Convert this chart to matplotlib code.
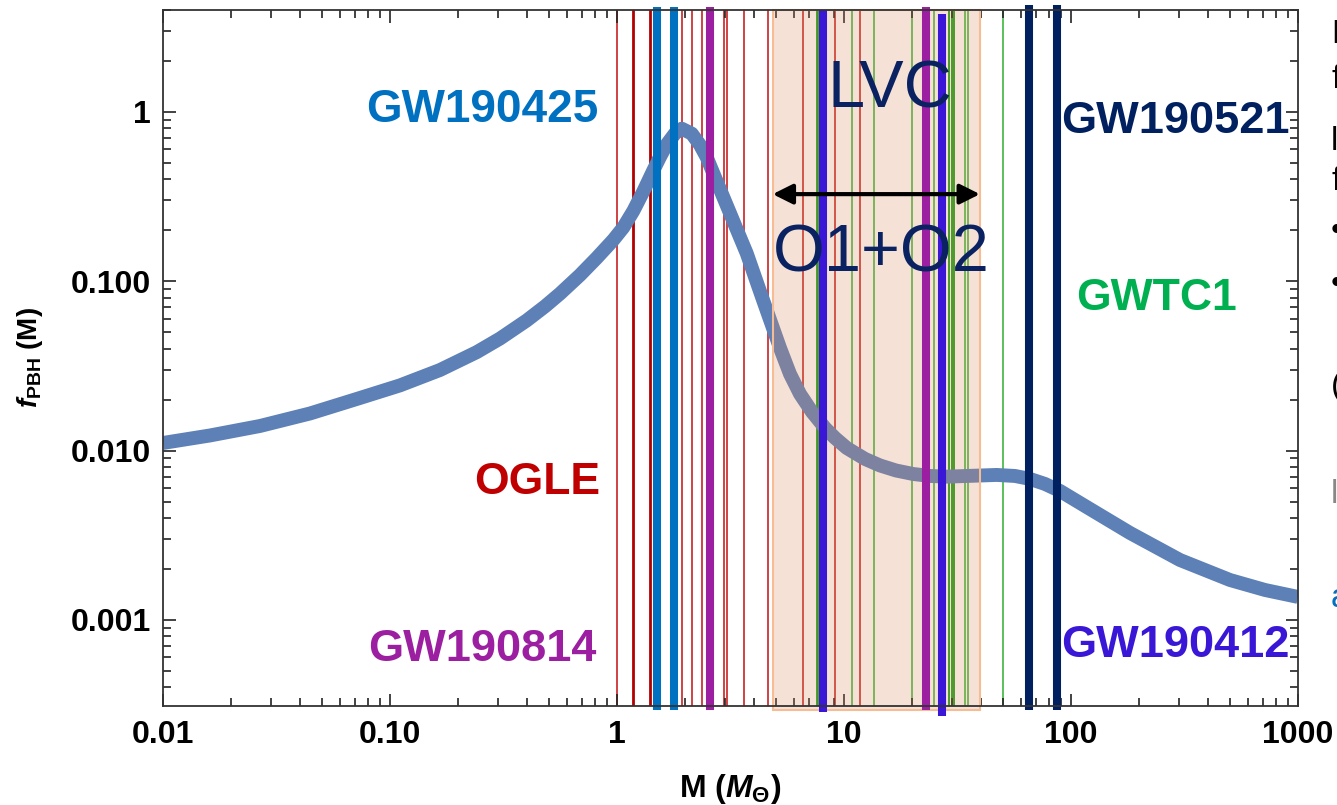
import matplotlib
matplotlib.use("Agg")
import matplotlib.pyplot as plt
from matplotlib.ticker import FixedLocator, FixedFormatter, LogLocator, NullFormatter

plt.rcParams['font.family'] = ['Liberation Sans', 'DejaVu Sans']
plt.rcParams['mathtext.fontset'] = 'custom'
plt.rcParams['mathtext.rm'] = 'Liberation Sans:bold'
plt.rcParams['mathtext.it'] = 'Liberation Sans:italic:bold'
plt.rcParams['mathtext.bf'] = 'Liberation Sans:bold'

# ---------------- data ----------------
mass = [0.0100, 0.01611, 0.02675, 0.04442, 0.07375, 0.1107, 0.1661, 0.2410, 0.3052,
        0.4001, 0.4817, 0.5610, 0.6871, 0.8138, 0.9632, 1.066, 1.180, 1.306, 1.445,
        1.547, 1.656, 1.801, 1.928, 2.134, 2.321, 2.484, 2.656, 2.892, 3.147, 3.727,
        4.398, 5.226, 5.782, 6.401, 7.228, 8.249, 9.129, 10.28, 12.38, 14.41, 16.95,
        20.14, 23.92, 28.35, 47.07, 56.66, 65.96, 76.82, 89.44, 121.2, 182.0, 302.0,
        501.7, 715.4, 1000]
fpbh = [0.01109, 0.01228, 0.01397, 0.01656, 0.02045, 0.02427, 0.02992, 0.03814,
        0.04588, 0.05867, 0.07107, 0.08450, 0.1088, 0.1373, 0.1754, 0.2078, 0.2602,
        0.3392, 0.4511, 0.5422, 0.6427, 0.7464, 0.7967, 0.7445, 0.6385, 0.5400,
        0.4344, 0.3310, 0.2522, 0.1463, 0.07755, 0.04036, 0.02834, 0.02159, 0.01690,
        0.01360, 0.01187, 0.01036, 0.008922, 0.008166, 0.007627, 0.007274, 0.007079,
        0.007014, 0.007178, 0.007079, 0.006798, 0.006350, 0.005773, 0.004519,
        0.003261, 0.002258, 0.001720, 0.001502, 0.001366]

ogle_thin = [1.0, 1.93, 2.13, 2.37, 2.96, 3.05, 3.62, 4.61, 6.6, 9.1, 11.8]
ogle_thick = [1.18, 1.40]
gwtc1_thin = [10.8, 13.5, 20.0, 24.9, 34.1, 35.3, 50.0]
gwtc1_mid = [29.0, 29.8, 30.5]
gwtc1_thick = [7.6]
gw190425 = [1.50, 1.79]
gw190814 = [2.58, 22.9]
gw190412 = [8.07, 27.1]
gw190521 = [65.0, 86.7]
lvc_range = [4.85, 39.7]
arrow_level = 0.327

xticks = [0.01, 0.1, 1, 10, 100, 1000]
xticklabels = ['0.01', '0.10', '1', '10', '100', '1000']
yticks = [0.001, 0.01, 0.1, 1]
yticklabels = ['0.001', '0.010', '0.100', '1']

# ---------------- figure ----------------
W, H = 1337, 805
fig = plt.figure(figsize=(W / 100, H / 100), dpi=100)
L, R, T, B = 163, 1298, 10, 706
ax = fig.add_axes([L / W, 1 - B / H, (R - L) / W, (B - T) / H])
ax.set_xscale('log')
ax.set_yscale('log')
ax.set_xlim(0.01, 1000)
ax.set_ylim(3.1e-4, 4.0)

def fx(px):
    return px / W

def fy(py):
    return 1 - py / H

# thin lines (OGLE, GWTC1)
for m in ogle_thin:
    ax.axvline(m, color='#C41010', lw=1.1, zorder=1)
for m in ogle_thick:
    ax.axvline(m, color='#B00000', lw=2.0, zorder=1)
for m in gwtc1_thin:
    ax.axvline(m, color='#2DB02D', lw=1.1, zorder=1)
for m in gwtc1_mid:
    ax.axvline(m, color='#1AA01A', lw=1.4, zorder=1)
for m in gwtc1_thick:
    ax.axvline(m, color='#0E9A0E', lw=2.0, zorder=1)

# curve
ax.plot(mass, fpbh, color='#5D80B6', lw=10, solid_capstyle='butt',
        solid_joinstyle='round', zorder=2)

# LVC box
ax.axvspan(lvc_range[0], lvc_range[1], ymin=-0.006, ymax=1.0,
           facecolor=(219 / 255, 139 / 255, 91 / 255, 0.25),
           edgecolor='#F6BD94', lw=1.5, zorder=3, clip_on=False)

# thick GW event lines
def thick(ms, color, ymin, ymax):
    for m in ms:
        ax.axvline(m, ymin=ymin, ymax=ymax, color=color, lw=5.8, zorder=4,
                   clip_on=False, solid_capstyle='butt')

thick(gw190425, '#0070C0', -0.006, 1.004)
thick(gw190814, '#9B1FA0', -0.006, 1.004)
thick([gw190412[0]], '#3A17D6', -0.009, 1.0)
thick([gw190412[1]], '#3A17D6', -0.014, 0.994)
thick(gw190521, '#002060', -0.006, 1.007)

# arrow
ax.annotate('', xy=(lvc_range[1], arrow_level), xytext=(lvc_range[0], arrow_level),
            arrowprops=dict(arrowstyle='<|-|>', color='black', lw=3,
                            mutation_scale=30, shrinkA=0, shrinkB=0),
            zorder=6)

# axes styling
for s in ax.spines.values():
    s.set_color('#333333')
    s.set_linewidth(1.3)
    s.set_zorder(5)
ax.xaxis.set_major_locator(FixedLocator(xticks))
ax.xaxis.set_major_formatter(FixedFormatter(xticklabels))
ax.yaxis.set_major_locator(FixedLocator(yticks))
ax.yaxis.set_major_formatter(FixedFormatter(yticklabels))
ax.xaxis.set_minor_locator(LogLocator(base=10, subs=range(2, 10), numticks=20))
ax.yaxis.set_minor_locator(LogLocator(base=10, subs=range(2, 10), numticks=20))
ax.xaxis.set_minor_formatter(NullFormatter())
ax.yaxis.set_minor_formatter(NullFormatter())
ax.tick_params(which='both', direction='in', top=True, right=True,
               color='#222222', width=1.2)
ax.tick_params(which='major', length=9)
ax.tick_params(which='minor', length=6)
ax.tick_params(axis='x', which='major', pad=10)
ax.tick_params(axis='y', which='major', pad=9)
for lab in ax.get_xticklabels() + ax.get_yticklabels():
    lab.set_fontsize(23)
    lab.set_fontweight('bold')

# axis labels
fig.text(fx(730), fy(797), r'M ($M_{\Theta}$)', fontsize=23, fontweight='bold',
         ha='center', va='baseline')
fig.text(fx(30), fy(358), r'$f_{\mathrm{PBH}}$ (M)', fontsize=20, fontweight='bold',
         ha='center', va='center', rotation=90)

# annotation texts
fig.text(fx(598), fy(122), 'GW190425', color='#0070C0', fontsize=33,
         fontweight='bold', ha='right', va='baseline', zorder=7)
fig.text(fx(600), fy(494), 'OGLE', color='#C00000', fontsize=32,
         fontweight='bold', ha='right', va='baseline', zorder=7)
fig.text(fx(596), fy(661), 'GW190814', color='#9B1FA0', fontsize=32.5,
         fontweight='bold', ha='right', va='baseline', zorder=7)
fig.text(fx(1061), fy(133), 'GW190521', color='#002060', fontsize=32.5,
         fontweight='bold', ha='left', va='baseline', zorder=7)
fig.text(fx(1076), fy(310), 'GWTC1', color='#00B050', fontsize=32,
         fontweight='bold', ha='left', va='baseline', zorder=7)
fig.text(fx(1061), fy(657), 'GW190412', color='#3A17D6', fontsize=32.5,
         fontweight='bold', ha='left', va='baseline', zorder=7)
fig.text(fx(890), fy(107), 'LVC', color='#0A2262', fontsize=48,
         ha='center', va='baseline', zorder=7)
fig.text(fx(881), fy(272), 'O1+O2', color='#0A2262', fontsize=48,
         ha='center', va='baseline', zorder=7)

# fragments of neighbouring slide text at right edge (cut off in the reference too)
frags = [('D', 43, 'black'), ('f', 88, 'black'), ('l', 150, 'black'),
         ('f', 190, 'black'), ('•', 240, 'black'), ('•', 293, 'black'),
         ('(', 395, 'black'), ('l', 503, '#888888'), ('a', 607, '#0070C0')]
for ch, yb, c in frags:
    fig.text(fx(1331), fy(yb), ch, color=c, fontsize=24, ha='left', va='baseline')

fig.savefig('out.png', dpi=100)
